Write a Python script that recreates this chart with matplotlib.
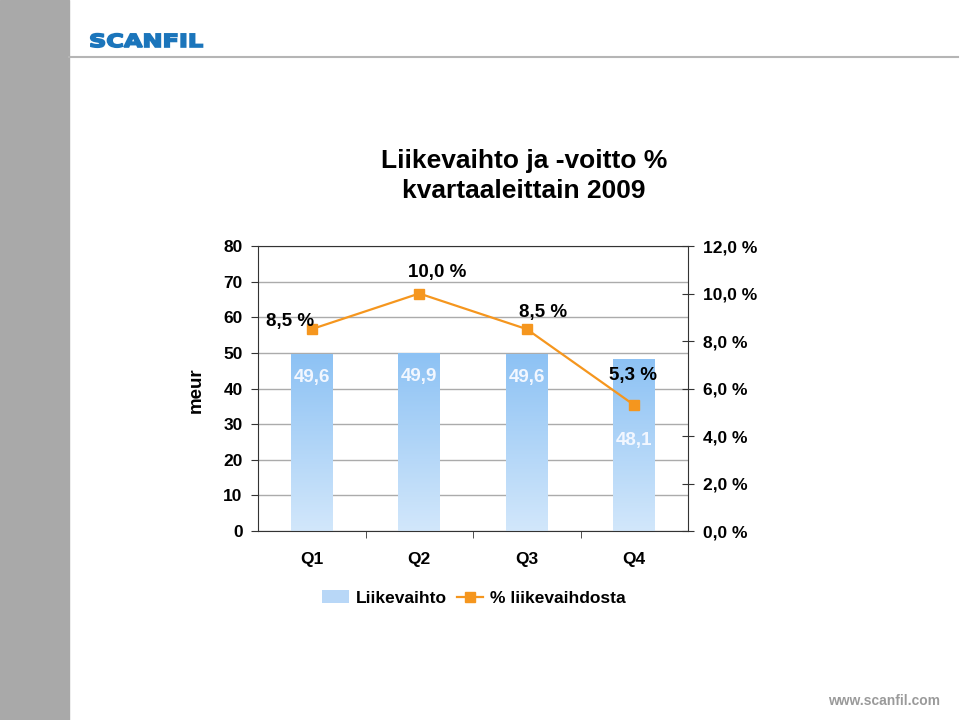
import numpy as np
import matplotlib
matplotlib.use('Agg')
import matplotlib.pyplot as plt
from matplotlib.colors import LinearSegmentedColormap
from matplotlib.patches import Patch, Rectangle, PathPatch
from matplotlib.lines import Line2D
from matplotlib.textpath import TextPath
from matplotlib.font_manager import FontProperties
from matplotlib.transforms import Affine2D

plt.rcParams['font.family'] = ['Liberation Sans', 'DejaVu Sans']
plt.rcParams['font.weight'] = 'bold'
plt.rcParams['axes.labelweight'] = 'bold'

quarters = ['Q1', 'Q2', 'Q3', 'Q4']
revenue = [49.6, 49.9, 49.6, 48.1]
revenue_labels = ['49,6', '49,9', '49,6', '48,1']
margin = [8.5, 10.0, 8.5, 5.3]
margin_labels = ['8,5 %', '10,0 %', '8,5 %', '5,3 %']
left_ticks = [0, 10, 20, 30, 40, 50, 60, 70, 80]
right_ticks = [0, 2, 4, 6, 8, 10, 12]
right_ticklabels = ['0,0 %', '2,0 %', '4,0 %', '6,0 %', '8,0 %', '10,0 %', '12,0 %']

bar_top = '#8DC2F4'
bar_bottom = '#D2E7FB'
orange = '#F5961E'
dark = '#333333'

fig = plt.figure(figsize=(9.6, 7.2), dpi=100)

# slide decoration
fig.patches.append(Rectangle((0, 0), 69/960, 1, transform=fig.transFigure,
                             color='#A9A9A9', zorder=0))
fig.add_artist(Line2D([69/960, 958/960], [1-57/720, 1-57/720], color='#B5B5B5', lw=1.5))
logo = TextPath((0, 0), 'SCANFIL', size=1,
                prop=FontProperties(family='DejaVu Sans', weight='bold'))
fig.add_artist(PathPatch(logo, facecolor='#1B75BB', edgecolor='#1B75BB', lw=1.2,
                         transform=Affine2D().scale(24.0, 18.0).translate(89, 720-47)))
fig.text(884/960, 1-701/720, 'www.scanfil.com', color='#9A9A9A', fontsize=10,
         va='center', ha='center')

fig.text(524/960, 1-176/720, 'Liikevaihto ja -voitto %\nkvartaaleittain 2009',
         fontsize=19, ha='center', va='center', linespacing=1.3)

ax = fig.add_axes([258/960, 1-531/720, 430/960, 285/720])
x = np.arange(len(quarters))
bars = ax.bar(x, revenue, width=0.39, facecolor='none', edgecolor='none')
cmap = LinearSegmentedColormap.from_list('bar', [bar_bottom, bar_top])
grad = np.linspace(0, 1, 256).reshape(-1, 1)
for b in bars:
    x0 = b.get_x()
    ax.imshow(grad, extent=[x0, x0 + b.get_width(), 0, b.get_height()], origin='lower',
              cmap=cmap, aspect='auto', zorder=2)

ax.set_xlim(-0.5, 3.5)
ax.set_ylim(0, 80)
ax.set_yticks(left_ticks)
ax.yaxis.grid(True, color='#ABABAB', lw=1)
ax.set_axisbelow(True)
ax.set_xticks(x)
ax.set_xticklabels(quarters)
ax.set_xticks([0.5, 1.5, 2.5], minor=True)
ax.tick_params(axis='x', which='major', length=0, pad=15, labelsize=12.5)
ax.tick_params(axis='x', which='minor', length=5, direction='out', color=dark)
ax.tick_params(axis='y', length=5, direction='out', color=dark, pad=6, labelsize=12.5)
for s in ['left', 'bottom', 'top']:
    ax.spines[s].set_color(dark)
ax.spines['right'].set_visible(False)
ax.set_ylabel('meur', fontsize=13.5)
ax.yaxis.set_label_coords(-0.123, 0.495)

# bar value labels
bar_label_offsets = [-23, -23, -23, -81]
for xi, v, lab, off in zip(x, revenue, revenue_labels, bar_label_offsets):
    ax.annotate(lab, (xi, v), xytext=(0, off), textcoords='offset pixels',
                ha='center', va='center', color='#F2F7FF', fontsize=13.5)

ax2 = ax.twinx()
ax2.plot(x, margin, color=orange, lw=1.6, marker='s', markersize=7, zorder=3)
ax2.set_ylim(0, 12)
ax2.set_yticks(right_ticks)
ax2.set_yticklabels(right_ticklabels)
ax2.tick_params(axis='y', length=8, direction='inout', color=dark, pad=7, labelsize=12.5)
ax2.spines['right'].set_color(dark)
for s in ['left', 'bottom', 'top']:
    ax2.spines[s].set_visible(False)

line_label_offsets = [(-22, 8), (18, 21), (16, 17), (-1, 30)]
for xi, v, lab, (dx, dy) in zip(x, margin, margin_labels, line_label_offsets):
    ax2.annotate(lab, (xi, v), xytext=(dx, dy), textcoords='offset pixels',
                 ha='center', va='center', color='black', fontsize=13.5)

handles = [Patch(facecolor='#B8D7F7', edgecolor='none'),
           Line2D([], [], color=orange, lw=1.6, marker='s', markersize=7)]
fig.legend(handles, ['Liikevaihto', '% liikevaihdosta'], loc='center',
           bbox_to_anchor=(474/960, 1-598/720), ncol=2, frameon=False,
           fontsize=12.5, handlelength=1.5, handletextpad=0.4, columnspacing=0.6)

fig.savefig('out.png', dpi=100)
